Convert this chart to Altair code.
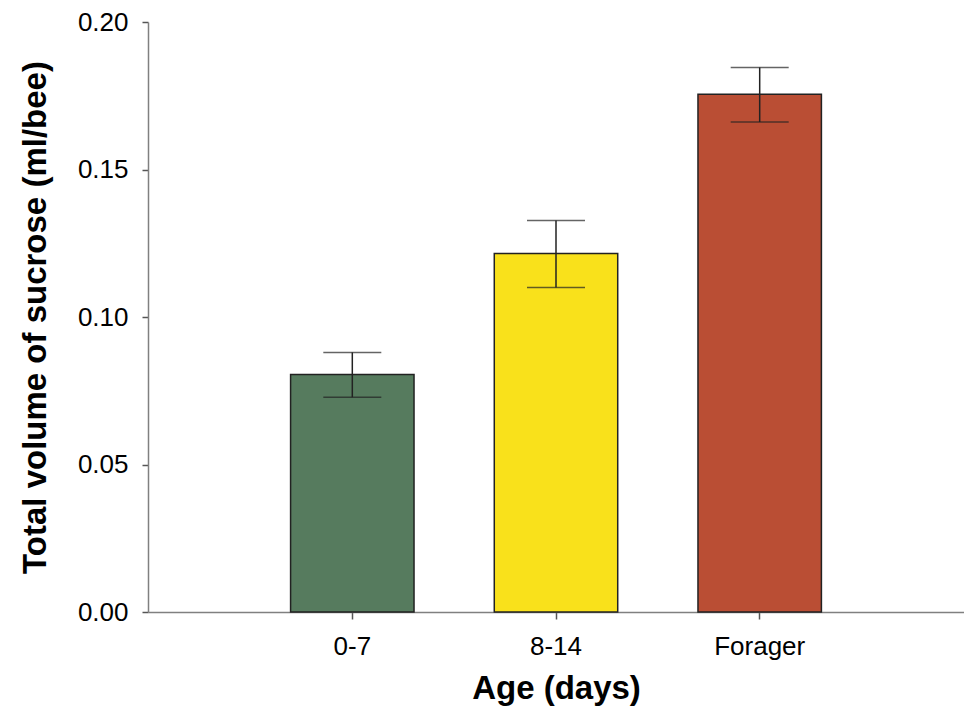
import altair as alt
import pandas as pd

categories = ["0-7", "8-14", "Forager"]
means = [0.0805, 0.1215, 0.1755]
upper = [0.0880, 0.1327, 0.1846]
lower = [0.0728, 0.1100, 0.1661]
colors = ["#567b5e", "#f9e11b", "#ba4e34"]

df = pd.DataFrame({"cat": categories, "mean": means, "hi": upper, "lo": lower})

FONT = "Liberation Sans"

xenc = alt.X(
    "cat:N",
    sort=categories,
    scale=alt.Scale(paddingInner=0.394, paddingOuter=0.70),
    axis=alt.Axis(
        title="Age (days)",
        labelAngle=0,
        labelFont=FONT,
        labelFontSize=26,
        labelColor="black",
        labelBaseline="alphabetic",
        labelPadding=35,
        tickSize=7,
        tickColor="#555555",
        tickWidth=1.5,
        domainColor="#808080",
        domainWidth=1.5,
        titleFont=FONT,
        titleFontSize=33,
        titleFontWeight="bold",
        titleColor="black",
        titleBaseline="alphabetic",
        titleY=86,
        grid=False,
    ),
)

yscale = alt.Scale(domain=[0, 0.2], nice=False)

bars = alt.Chart(df).mark_bar(stroke="#222222", strokeWidth=1.5).encode(
    x=xenc,
    y=alt.Y(
        "mean:Q",
        scale=yscale,
        axis=alt.Axis(
            title="Total volume of sucrose (ml/bee)",
            values=[0, 0.05, 0.10, 0.15, 0.20],
            format=".2f",
            labelFont=FONT,
            labelFontSize=26,
            labelColor="black",
            labelPadding=14,
            tickSize=6,
            tickColor="#555555",
            tickWidth=1.5,
            domainColor="#808080",
            domainWidth=1.5,
            titleFont=FONT,
            titleFontSize=33,
            titleFontWeight="bold",
            titleColor="black",
            titleBaseline="alphabetic",
            titleX=-103,
            grid=False,
        ),
    ),
    color=alt.Color("cat:N", scale=alt.Scale(domain=categories, range=colors), legend=None),
)

stems = alt.Chart(df).mark_rule(color="#222222", strokeWidth=1.5).encode(
    x=alt.X("cat:N", sort=categories),
    y=alt.Y("lo:Q", scale=yscale),
    y2="hi:Q",
)

caps_hi = alt.Chart(df).mark_tick(color="#222222", thickness=1.5, size=58).encode(
    x=alt.X("cat:N", sort=categories),
    y=alt.Y("hi:Q", scale=yscale),
)

caps_lo = alt.Chart(df).mark_tick(color="#222222", thickness=1.5, size=58).encode(
    x=alt.X("cat:N", sort=categories),
    y=alt.Y("lo:Q", scale=yscale),
)

chart = (
    alt.layer(bars, stems, caps_hi, caps_lo)
    .properties(
        width=816,
        height=590,
        autosize=alt.AutoSizeParams(type="none"),
        padding={"left": 140, "top": 14, "right": 0, "bottom": 95},
        background="white",
    )
    .configure_view(stroke=None)
)

chart.save("out.html", embed_options={"renderer": "svg", "actions": False})
